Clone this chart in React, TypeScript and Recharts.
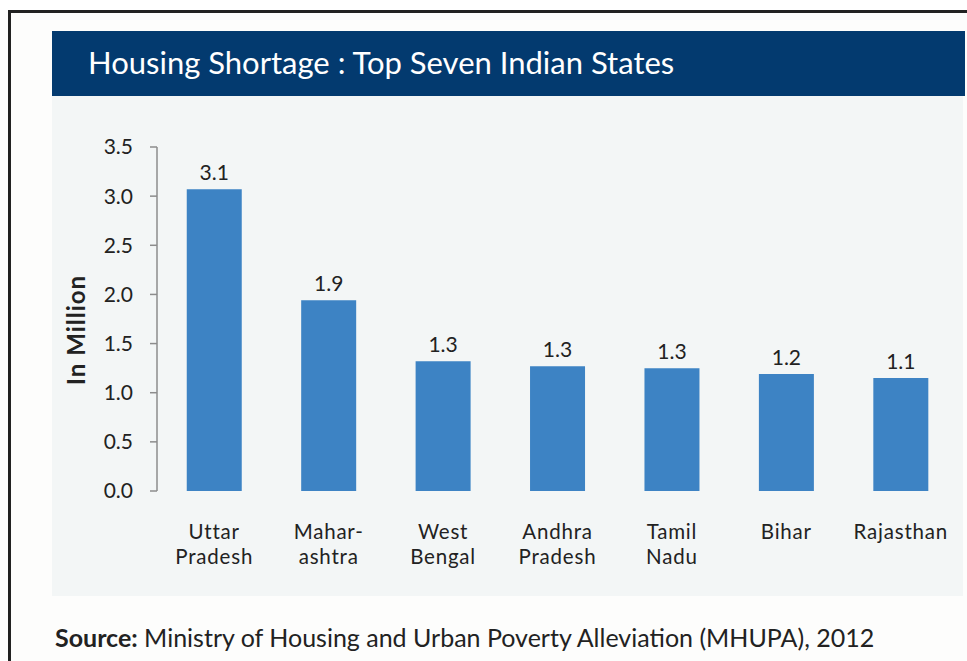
import { BarChart, Bar, XAxis, YAxis, LabelList } from 'recharts'

const states = ['Uttar Pradesh', 'Maharashtra', 'West Bengal', 'Andhra Pradesh', 'Tamil Nadu', 'Bihar', 'Rajasthan']
const stateLines = [['Uttar', 'Pradesh'], ['Mahar-', 'ashtra'], ['West', 'Bengal'], ['Andhra', 'Pradesh'], ['Tamil', 'Nadu'], ['Bihar'], ['Rajasthan']]
const shortage = [3.07, 1.94, 1.32, 1.27, 1.25, 1.19, 1.15]
const valueLabels = ['3.1', '1.9', '1.3', '1.3', '1.3', '1.2', '1.1']
const yTicks = [0, 0.5, 1, 1.5, 2, 2.5, 3, 3.5]
const boundaryTicks = [0, 1, 2, 3, 4, 5, 6, 7]

const FONT = 'Lato, "Open Sans", sans-serif'
const BAR_COLOR = '#3d83c4'
const AXIS_COLOR = '#8c8c8c'
const TEXT_COLOR = '#222'

const data = states.map((s, i) => ({ state: s, value: shortage[i], label: valueLabels[i] }))

function EmptyTick() {
  return <g />
}

function StateTick({ x, y, payload }: any) {
  const lines = stateLines[payload.index] || [payload.value]
  return (
    <g>
      {lines.map((l, i) => (
        <text key={i} x={x} y={y + 40 + i * 25} textAnchor="middle" fill={TEXT_COLOR} fontSize={20.5}
          letterSpacing={0.8} fontFamily={FONT}>
          {l}
        </text>
      ))}
    </g>
  )
}

function YLabel({ viewBox }: any) {
  const cx = viewBox.x - 2
  const cy = viewBox.y + viewBox.height / 2 + 11
  return (
    <text x={cx} y={cy} transform={`rotate(-90 ${cx} ${cy})`} textAnchor="middle" dominantBaseline="central"
      fill={TEXT_COLOR} fontSize={24} fontWeight={700} letterSpacing={1} fontFamily={FONT}>
      In Million
    </text>
  )
}

export default function App() {
  return (
    <div style={{ position: 'absolute', left: 0, top: 0, width: 967, height: 661, overflow: 'hidden', background: '#fff', fontFamily: FONT }}>
      <div style={{ position: 'absolute', left: 8, top: 10, width: 1100, height: 800, borderTop: '3px solid #222', borderLeft: '3px solid #222', background: '#fdfdfc' }} />
      <div style={{ position: 'absolute', left: 52, top: 31, width: 913, height: 65, background: '#033a6f' }}>
        <div style={{ position: 'absolute', left: 36, top: 0, lineHeight: '62px', fontSize: 31, color: '#fff', whiteSpace: 'nowrap' }}>
          Housing Shortage : Top Seven Indian States
        </div>
      </div>
      <div style={{ position: 'absolute', left: 52, top: 96, width: 911, height: 500, background: '#f3f6f6' }} />
      <div style={{ position: 'absolute', left: 0, top: 0 }}>
        <BarChart width={967} height={661} data={data} margin={{ top: 147, right: 9, bottom: 90, left: 77 }} barCategoryGap="26%">
          <XAxis xAxisId="bounds" type="number" domain={[0, 7]} ticks={boundaryTicks} allowDataOverflow height={0}
            axisLine={{ stroke: AXIS_COLOR, strokeWidth: 1.5 }} tickLine={{ stroke: AXIS_COLOR, strokeWidth: 1.5 }} tickSize={7} tick={<EmptyTick />} />
          <XAxis xAxisId="cat" dataKey="state" height={80} axisLine={false} tickLine={false} interval={0} tick={<StateTick />} />
          <YAxis domain={[0, 3.5]} ticks={yTicks} width={80} tickSize={7} tickMargin={17}
            axisLine={{ stroke: AXIS_COLOR, strokeWidth: 1.5 }} tickLine={{ stroke: AXIS_COLOR, strokeWidth: 1.5 }}
            tickFormatter={(v: number) => v.toFixed(1)}
            tick={{ fill: TEXT_COLOR, fontSize: 21, fontFamily: FONT }}
            label={<YLabel />} />
          <Bar xAxisId="cat" dataKey="value" fill={BAR_COLOR} isAnimationActive={false}>
            <LabelList dataKey="label" position="top" offset={9} fill={TEXT_COLOR} fontSize={21} fontFamily={FONT} />
          </Bar>
        </BarChart>
      </div>
      <div style={{ position: 'absolute', left: 55, top: 622, fontSize: 25, color: '#222', whiteSpace: 'nowrap' }}>
        <b>Source:</b> Ministry of Housing and Urban Poverty Alleviation (MHUPA), 2012
      </div>
    </div>
  )
}
